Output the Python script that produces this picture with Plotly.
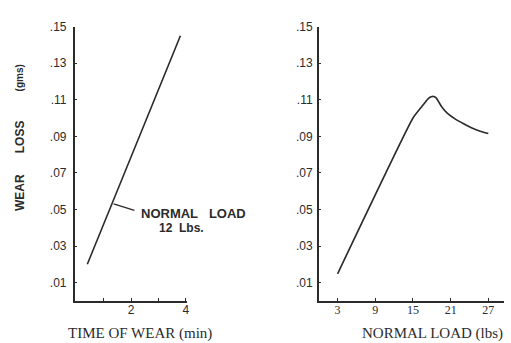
import plotly.graph_objects as go

# ---- data ----
time_min = [0.4, 3.8]
wear_vs_time = [0.020, 0.145]

load_lbs = [3, 15, 16.4, 17.4, 17.9, 18.3, 18.7, 19.6, 20.5, 21.7, 23.0, 24.4, 25.7, 27]
wear_vs_load = [0.0148, 0.100, 0.1062, 0.1105, 0.1116, 0.1118, 0.1110, 0.1060,
                0.1025, 0.0995, 0.0970, 0.0945, 0.0928, 0.0915]

y_tickvals = [0.01, 0.03, 0.05, 0.07, 0.09, 0.11, 0.13, 0.15]
y_ticktext = [".01", ".03", ".05", ".07", ".09", ".11", ".13", ".15"]
x1_tickvals = [1, 2, 3, 4]
x1_ticktext = ["", "2", "", "4"]
x2_tickvals = [3, 9, 15, 21, 27]
x2_ticktext = ["3", "9", "15", "21", "27"]

W, H = 511, 343
INK = "#2b2b2b"

fig = go.Figure()
fig.add_trace(go.Scatter(x=time_min, y=wear_vs_time, mode="lines",
                         line=dict(color=INK, width=1.6), xaxis="x", yaxis="y",
                         showlegend=False))
fig.add_trace(go.Scatter(x=load_lbs, y=wear_vs_load, mode="lines",
                         line=dict(color=INK, width=1.6, shape="spline", smoothing=0.4),
                         xaxis="x2", yaxis="y2", showlegend=False))

ydom = [1 - 300 / H, 1 - 20 / H]
axis_common = dict(showline=True, linecolor=INK, linewidth=1.5, showgrid=False,
                   zeroline=False, ticks="inside", ticklen=3, tickcolor=INK, tickwidth=1.2)

fig.update_layout(
    width=W, height=H, margin=dict(l=0, r=0, t=0, b=0),
    paper_bgcolor="white", plot_bgcolor="white",
    xaxis=dict(domain=[75 / W, 188 / W], range=[-0.06, 4.05], anchor="y",
               tickvals=x1_tickvals, ticktext=x1_ticktext,
               tickfont=dict(family="Liberation Sans", size=12, color=INK),
               ticklabelstandoff=-3, **axis_common),
    yaxis=dict(domain=ydom, range=[0, 0.15], anchor="x",
               tickvals=y_tickvals, ticktext=y_ticktext,
               tickfont=dict(family="Liberation Sans", size=12, color=INK),
               ticklabelstandoff=4, **axis_common),
    xaxis2=dict(domain=[320 / W, 506 / W], range=[0, 29.5], anchor="y2",
                tickvals=x2_tickvals, ticktext=x2_ticktext,
                tickfont=dict(family="Liberation Serif", size=12, color=INK),
                ticklabelstandoff=-3, **axis_common),
    yaxis2=dict(domain=ydom, range=[0, 0.15], anchor="x2",
                tickvals=y_tickvals, ticktext=y_ticktext,
                tickfont=dict(family="Liberation Sans", size=12, color=INK),
                ticklabelstandoff=2, **axis_common),
)

# x-axis titles (placed as in the original)
for txt, xpx in [("TIME OF WEAR (min)", 141), ("NORMAL LOAD (lbs)", 434)]:
    fig.add_annotation(text=txt, xref="paper", yref="paper", x=xpx / W, y=1 - 333 / H,
                       xanchor="center", yanchor="middle", showarrow=False,
                       font=dict(family="Liberation Serif", size=15, color=INK))

# y-axis title, three words as in the original spacing
for word, ypx, size in [("<b>WEAR</b>", 189, 12), ("<b>LOSS</b>", 132, 12), ("<b>(gms)</b>", 72, 10)]:
    fig.add_annotation(text=word, textangle=-90, xref="paper", yref="paper",
                       x=20 / W, y=1 - ypx / H, showarrow=False,
                       font=dict(family="Liberation Sans", size=size, color=INK),
                       xanchor="center", yanchor="middle")

# label with leader line
fig.add_shape(type="line", xref="x", yref="y", x0=1.36, y0=0.0530, x1=2.12, y1=0.0495,
              line=dict(color=INK, width=1.3))
fig.add_annotation(text="<b>NORMAL&nbsp;&nbsp;&nbsp;LOAD</b>", xref="x", yref="y",
                   x=2.28, y=0.0476, xanchor="left", yanchor="middle", showarrow=False,
                   font=dict(family="Liberation Sans", size=13, color=INK))
fig.add_annotation(text="<b>12&nbsp;&nbsp;Lbs.</b>", xref="x", yref="y",
                   x=3.83, y=0.0400, xanchor="center", yanchor="middle", showarrow=False,
                   font=dict(family="Liberation Sans", size=12, color=INK))

fig.write_html("out.html")
